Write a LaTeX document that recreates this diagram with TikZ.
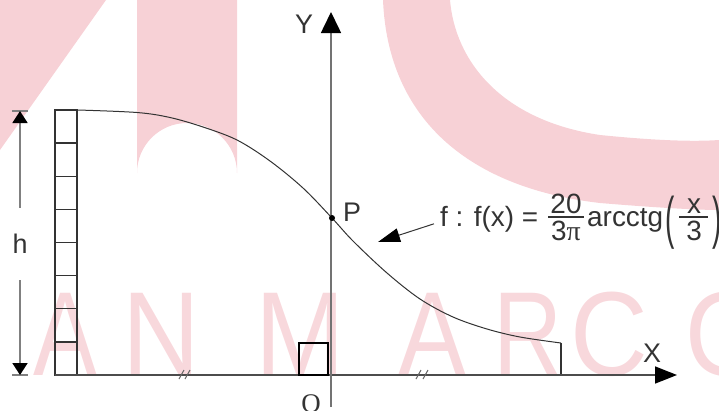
\documentclass[tikz,border=0pt]{standalone}
\usepackage{fontspec}
\setmainfont{Liberation Sans}
\newfontfamily\serifface{Liberation Serif}
\usetikzlibrary{arrows.meta}
\definecolor{wm}{HTML}{F7D1D6}
\definecolor{wmt}{HTML}{F8D8DC}
\definecolor{ink}{HTML}{333333}
\begin{document}
\begin{tikzpicture}[x=1bp,y=-1bp,
  lbl/.style={font=\fontsize{27}{32}\selectfont, inner sep=0pt, text=ink},
  eq/.style={font=\fontsize{28}{33}\selectfont, inner sep=0pt, text=ink},
  wmtext/.style={font=\fontsize{120}{130}\selectfont, inner sep=0pt, text=wmt, anchor=base},
  xaxis/.style={draw=black!70, line width=1.6bp},
  yaxis/.style={draw=black!55, line width=1.6bp},
  frame/.style={draw=ink, line width=1.4bp},
  curve/.style={draw=ink, line width=1bp},
  dimline/.style={draw=black!50, line width=1.8bp},
  bar/.style={draw=ink, line width=1.3bp},
  tick/.style={draw=black!60, line width=1bp},
  ptr/.style={draw=ink, line width=1bp}
]
\useasboundingbox (0,0) rectangle (719,410);

% ---------- watermark ----------
\fill[wm] (0,0) -- (106,0) -- (0,150) -- cycle;
\fill[wm] (137,0) -- (237,0) -- (237,173) arc[start angle=0, end angle=-180, radius=50] -- cycle;
\fill[wm] (383,0) .. controls (388,120) and (470,188) .. (600,203)
  .. controls (660,208) and (700,210) .. (719,210) -- (719,140)
  .. controls (690,142) and (650,140) .. (600,135)
  .. controls (500,120) and (455,60) .. (450,0) -- cycle;
\node[wmtext, xscale=0.8] at (65,375) {A};
\node[wmtext, xscale=0.9] at (161,375) {N};
\node[wmtext, xscale=0.9] at (300,375) {M};
\node[wmtext, xscale=0.85] at (432,375) {A};
\node[wmtext, xscale=0.8] at (528,375) {R};
\node[wmtext, xscale=0.9] at (609,375) {C};
\node[wmtext, xscale=0.9] at (727,375) {O};

% ---------- coordinates ----------
\coordinate (ybot) at (331,407);
\coordinate (ytop) at (331,12);
\coordinate (xleft) at (55,375);
\coordinate (xright) at (677,375);
\coordinate (cA) at (78,110);
\coordinate (cE) at (561,343);
\coordinate (cEb) at (561,375);
\coordinate (Pt) at (332,218);
\coordinate (dtop) at (20,111);
\coordinate (dbot) at (20,375);
\coordinate (tip) at (378,242);

% ---------- ladder ----------
\draw[frame] (55,110) rectangle (77,375);
\foreach \k in {1,...,7}
  \draw[frame] (55,{110+\k*33.125}) -- (77,{110+\k*33.125});

% ---------- curve ----------
\draw[curve] plot[smooth, tension=0.55] coordinates {
  (78,110) (137,112.5) (170,117.5) (203,127) (237,140) (270,161) (303,188)
  (332,218) (353,241) (387,273) (420,299) (453,317) (487,329) (520,337) (561,343)};
\draw[frame, line width=1.2bp] (cE) -- (cEb);

% ---------- axes ----------
\draw[xaxis, -{Triangle[length=22bp,width=17bp,color=black]}] (xleft) -- (xright);
\draw[yaxis, -{Triangle[length=21bp,width=20bp,color=black]}] (ybot) -- (ytop);

% small square at origin
\draw[draw=black, line width=1.8bp] (299,343) rectangle (328,375);

% equal-length ticks
\draw[tick] (179,379) -- (184,370);
\draw[tick] (185,379) -- (190,370);
\draw[tick] (416,379) -- (421,370);
\draw[tick] (423,379) -- (428,370);

% point P
\fill[black] (Pt) circle (3);

% ---------- labels ----------
\node[lbl] (Ylab) at (304,24) {Y};
\node[lbl] (Xlab) at (652,353) {X};
\node[lbl] (Plab) at (352,212) {P};
\node[lbl, font=\fontsize{27}{32}\serifface] (Olab) at (311,404) {O};

% ---------- dimension h ----------
\node[lbl, minimum height=72bp] (hlab) at (20,244) {h};
\draw[dimline] (12,111) -- (28,111);
\draw[dimline] (12,375) -- (28,375);
\draw[dimline, -{Triangle[length=12bp,width=15bp,color=black]}] (hlab.north) -- (dtop);
\draw[dimline, -{Triangle[length=12bp,width=15bp,color=black]}] (hlab.south) -- (dbot);

% ---------- formula ----------
\node[eq, anchor=base west] (fA) at (440,226) {f : f(x) =};
\node[eq, anchor=south] (n1) at (566,213.5) {20};
\node[eq, anchor=north] (d1) at (566,220.5) {3{\serifface π}};
\draw[bar] (548,217) -- (584,217);
\node[eq, anchor=base west] (arc) at (587,226) {arcctg};
\node[eq] (lp) at (670,223) {\scalebox{1}[2.05]{(}};
\node[eq, anchor=south] (n2) at (694,213.5) {x};
\node[eq, anchor=north] (d2) at (694,220.5) {3};
\draw[bar] (679,217) -- (708,217);
\node[eq] (rp) at (717,223) {\scalebox{1}[2.05]{)}};

\draw[ptr, -{Triangle[length=22bp,width=14bp,color=black]}] ([shift={(-6,5)}]fA.west) -- (tip);

\end{tikzpicture}
\end{document}
